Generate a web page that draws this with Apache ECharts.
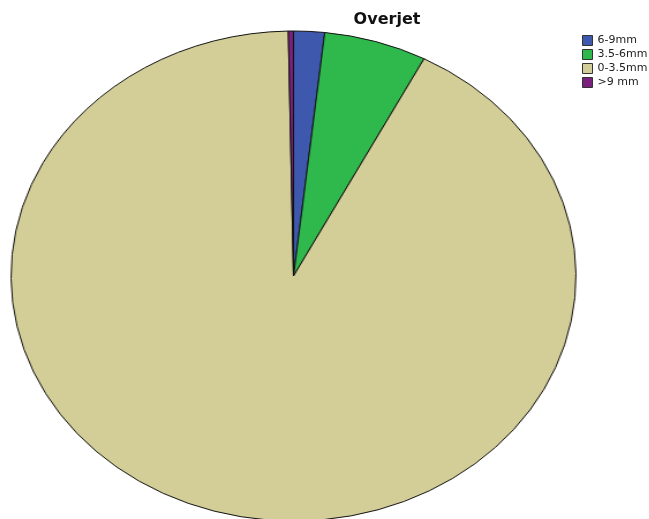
<!DOCTYPE html>
<html lang="en">
<head>
	<meta charset="UTF-8">
	<title>Overjet</title>
	<style>
		*{margin: 0; padding: 0; box-sizing: border-box;}
		body{ width: 649px; height: 519px; overflow: hidden; background: #fff; position: relative; }
		#pie{
			position: absolute; left: 0; top: 0;
			width: 649px; height: 519px;
			/* the original pie is an ellipse, so stretch a round one sideways */
			transform-origin: 293.5px 276px;
			transform: scaleX(1.153);
		}
		#overlay{
			position: absolute; left: 0; top: 0;
			width: 649px; height: 519px;
		}
	</style>
</head>
<body>
	<div id="pie"></div>
	<div id="overlay"></div>
	<script src="https://cdn.jsdelivr.net/npm/echarts@6/dist/echarts.min.js"></script>
	<script>
		// counts per overjet group
		const categories = ['6-9mm', '3.5-6mm', '0-3.5mm', '>9 mm'];
		const counts = [6, 20, 313, 1];
		const colors = ['#3e58ad', '#2fb84b', '#d3ce97', '#7b207f'];

		const pieData = categories.map(function (c, i) {
			return {name: c, value: counts[i], itemStyle: {color: colors[i]}};
		});

		const pieChart = echarts.init(document.getElementById('pie'));
		pieChart.setOption({
			animation: false,
			series: [{
				type: 'pie',
				center: [293.5, 276],
				radius: 245,
				startAngle: 90,
				clockwise: true,
				label: {show: false},
				labelLine: {show: false},
				emphasis: {disabled: true},
				itemStyle: {borderColor: '#111', borderWidth: 1},
				data: pieData
			}]
		});

		// title and legend live on a separate, unstretched chart
		const overlay = echarts.init(document.getElementById('overlay'));
		overlay.setOption({
			animation: false,
			title: {
				text: 'Overjet',
				left: 382,
				top: 7,
				textAlign: 'center',
				textStyle: {fontFamily: 'DejaVu Sans', fontWeight: 'bold', fontSize: 16, color: '#111'}
			},
			legend: {
				orient: 'vertical',
				left: 582,
				top: 35,
				padding: 0,
				itemWidth: 10,
				itemHeight: 10,
				itemGap: 3,
				selectedMode: false,
				icon: 'rect',
				itemStyle: {borderColor: '#333', borderWidth: 1},
				textStyle: {fontFamily: 'DejaVu Sans', fontSize: 11, color: '#222'},
				data: categories
			},
			series: [{
				type: 'pie',
				radius: 0,
				silent: true,
				label: {show: false},
				data: pieData
			}]
		});
	</script>
</body>
</html>
